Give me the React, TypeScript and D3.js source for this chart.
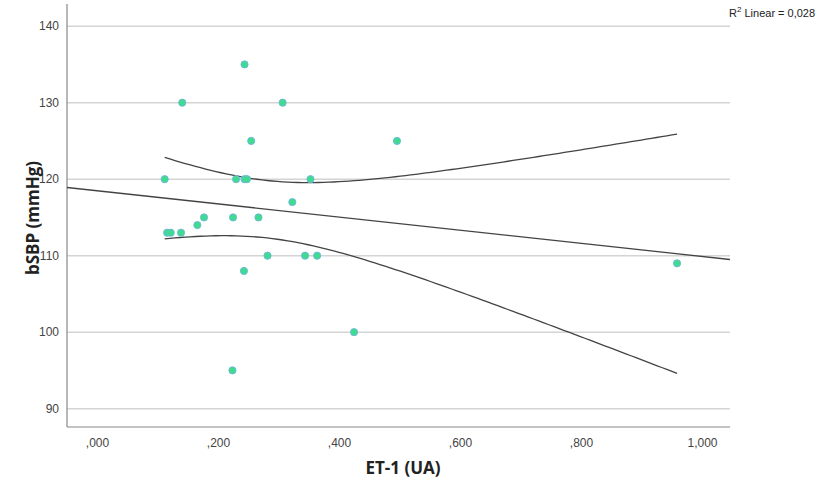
import React from "react";
import * as d3 from "d3";

const etValues = [0.111, 0.229, 0.243, 0.247, 0.352, 0.322, 0.176, 0.224, 0.266, 0.165, 0.115, 0.121, 0.138, 0.281, 0.343, 0.363, 0.242, 0.424, 0.223, 0.243, 0.140, 0.306, 0.254, 0.495, 0.958];
const sbpValues = [120, 120, 120, 120, 120, 117, 115, 115, 115, 114, 113, 113, 113, 110, 110, 110, 108, 100, 95, 135, 130, 130, 125, 125, 109];
const xTicks = [0, 0.2, 0.4, 0.6, 0.8, 1.0];
const yTicks = [90, 100, 110, 120, 130, 140];
const r2Label = "0,028";

const W = 817, H = 488;
const left = 67, right = 730, top = 4, bottom = 427;

export default function App() {
  const x = d3.scaleLinear().domain([-0.0505, 1.0455]).range([left, right]);
  const y = d3.scaleLinear().domain([87.6, 142.9]).range([bottom, top]);

  const n = etValues.length;
  const mx = d3.mean(etValues)!;
  const my = d3.mean(sbpValues)!;
  let sxx = 0, sxy = 0;
  for (let i = 0; i < n; i++) {
    sxx += (etValues[i] - mx) ** 2;
    sxy += (etValues[i] - mx) * (sbpValues[i] - my);
  }
  const b = sxy / sxx;
  const a = my - b * mx;
  let sse = 0;
  for (let i = 0; i < n; i++) sse += (sbpValues[i] - (a + b * etValues[i])) ** 2;
  const s = Math.sqrt(sse / (n - 2));
  const t = 2.069; // t(0.975, 23)
  const xmin = d3.min(etValues)!, xmax = d3.max(etValues)!;
  const grid = d3.range(0, 101).map((i) => xmin + ((xmax - xmin) * i) / 100);
  const half = (xv: number) => t * s * Math.sqrt(1 / n + (xv - mx) ** 2 / sxx);
  const line = d3.line<number[]>().x((d) => x(d[0])).y((d) => y(d[1]));
  const upper = line(grid.map((g) => [g, a + b * g + half(g)]))!;
  const lower = line(grid.map((g) => [g, a + b * g - half(g)]))!;
  const [d0, d1] = x.domain();
  const fit = line([[d0, a + b * d0], [d1, a + b * d1]])!;

  const fmtX = (v: number) => (v >= 1 ? d3.format(".3f")(v).replace(".", ",") : "," + d3.format(".3f")(v).split(".")[1]);

  return (
    <svg width={W} height={H} style={{ position: "absolute", left: 0, top: 0 }}>
      <rect width={W} height={H} fill="#fff" />
      {yTicks.map((v) => (
        <g key={v}>
          <line x1={left} x2={right} y1={y(v)} y2={y(v)} stroke="#d4d4d4" strokeWidth={1.5} />
          <text x={left - 8} y={y(v) + 4} textAnchor="end" fontFamily="Liberation Sans, Arial" fontSize={12} fill="#444">{v}</text>
        </g>
      ))}
      {xTicks.map((v) => (
        <text key={v} x={x(v)} y={447} textAnchor="middle" fontFamily="Liberation Sans, Arial" fontSize={12} fill="#444">{fmtX(v)}</text>
      ))}
      <line x1={left} x2={left} y1={top} y2={bottom} stroke="#888" strokeWidth={1.2} />
      <line x1={left} x2={right} y1={bottom} y2={bottom} stroke="#888" strokeWidth={1.2} />
      <defs>
        <clipPath id="plot"><rect x={left} y={top} width={right - left} height={bottom - top} /></clipPath>
      </defs>
      <g clipPath="url(#plot)">
        <path d={fit} fill="none" stroke="#444" strokeWidth={1.3} />
        <path d={upper} fill="none" stroke="#444" strokeWidth={1.3} />
        <path d={lower} fill="none" stroke="#444" strokeWidth={1.3} />
        {etValues.map((v, i) => (
          <circle key={i} cx={x(v)} cy={y(sbpValues[i])} r={3.6} fill="#3ddc8e" stroke="#74b4e0" strokeWidth={0.9} />
        ))}
      </g>
      <text x={729} y={17} fontFamily="Liberation Sans, Arial" fontSize={11} fill="#222">
        R<tspan dy={-5} fontSize={8}>2</tspan><tspan dy={5}> Linear = {r2Label}</tspan>
      </text>
      <text x={403} y={474} textAnchor="middle" fontFamily="Open Sans, Noto Sans" fontWeight="bold" fontSize={17} fill="#222">ET-1 (UA)</text>
      <text transform={`translate(39,218) rotate(-90)`} textAnchor="middle" fontFamily="Open Sans, Noto Sans" fontWeight="bold" fontSize={17} fill="#222">bSBP (mmHg)</text>
    </svg>
  );
}
